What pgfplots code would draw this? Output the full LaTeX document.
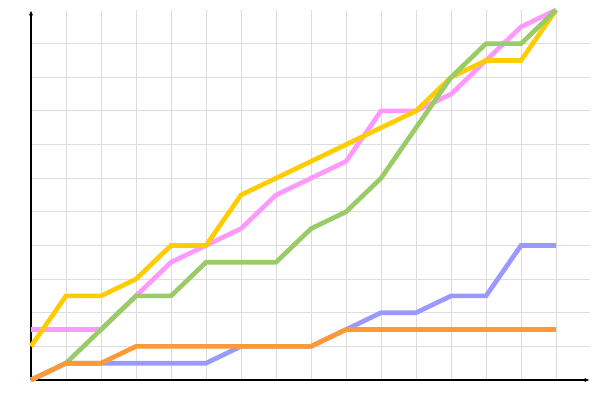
\documentclass[border=0pt]{standalone}
\usepackage{pgfplots}
\pgfplotsset{compat=1.18}
\usetikzlibrary{arrows.meta}
\definecolor{cpink}{HTML}{FF99FF}
\definecolor{cyellow}{HTML}{FFCC00}
\definecolor{cgreen}{HTML}{99CC66}
\definecolor{cblue}{HTML}{9999FF}
\definecolor{corange}{HTML}{FF9933}
\definecolor{cgrid}{HTML}{DDDDDD}
\begin{document}
\begin{tikzpicture}[x=1pt,y=1pt]
\path[use as bounding box] (0,0) rectangle (450,300);
\begin{axis}[
  at={(23.25pt,15pt)}, anchor=south west,
  scale only axis, width=419.25pt, height=277.5pt,
  xmin=0, xmax=15.97, ymin=0, ymax=11,
  axis x line=bottom, axis y line=left,
  axis line style={black, line width=0.9pt, -{Latex[length=4pt,width=3pt]}},
  xtick={1,...,15}, ytick={1,...,10},
  xticklabels={}, yticklabels={},
  tick style={draw=none},
  grid=major, major grid style={cgrid, line width=0.75pt},
  clip=false,
  every axis plot/.style={line width=3.5pt, mark=none, line join=miter},
]
\addplot[cpink] coordinates {(0,1.5)(1,1.5)(2,1.5)(3,2.5)(4,3.5)(5,4)(6,4.5)(7,5.5)(8,6)(9,6.5)(10,8)(11,8)(12,8.5)(13,9.5)(14,10.5)(15,11)};
\addplot[cyellow] coordinates {(0,1)(1,2.5)(2,2.5)(3,3)(4,4)(5,4)(6,5.5)(7,6)(8,6.5)(9,7)(10,7.5)(11,8)(12,9)(13,9.5)(14,9.5)(15,11)};
\addplot[cgreen] coordinates {(0,0)(1,0.5)(2,1.5)(3,2.5)(4,2.5)(5,3.5)(6,3.5)(7,3.5)(8,4.5)(9,5)(10,6)(11,7.5)(12,9)(13,10)(14,10)(15,11)};
\addplot[cblue] coordinates {(0,0)(1,0.5)(2,0.5)(3,0.5)(4,0.5)(5,0.5)(6,1)(7,1)(8,1)(9,1.5)(10,2)(11,2)(12,2.5)(13,2.5)(14,4)(15,4)};
\addplot[corange] coordinates {(0,0)(1,0.5)(2,0.5)(3,1)(4,1)(5,1)(6,1)(7,1)(8,1)(9,1.5)(10,1.5)(11,1.5)(12,1.5)(13,1.5)(14,1.5)(15,1.5)};
\end{axis}
\end{tikzpicture}
\end{document}
